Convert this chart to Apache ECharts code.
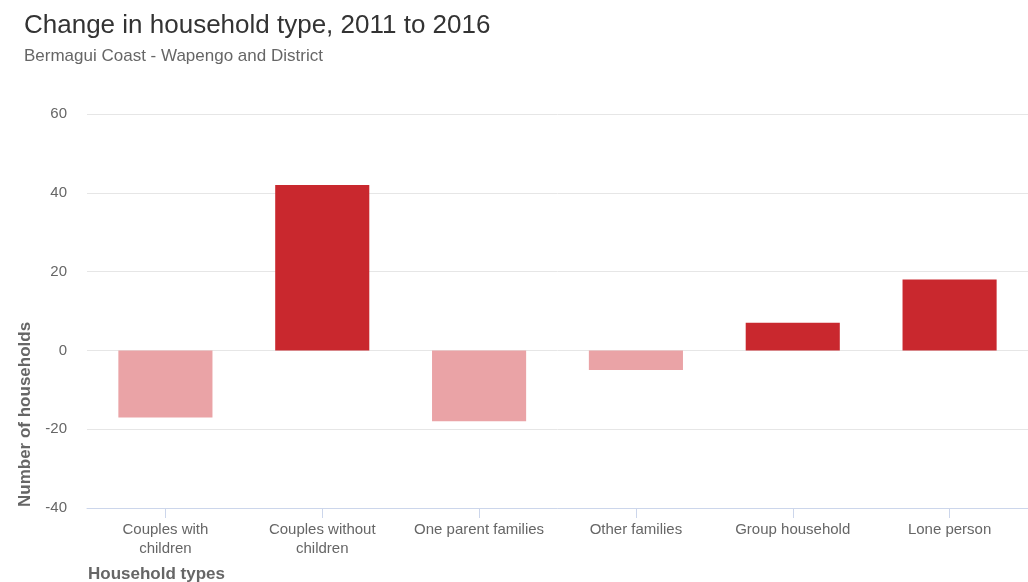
<!DOCTYPE html>
<html>
<head>
<meta charset="utf-8">
<script src="https://cdn.jsdelivr.net/npm/echarts@6/dist/echarts.min.js"></script>
<style>
html,body{margin:0;padding:0;background:#fff;}
#chart{width:1028px;height:582px;}
</style>
</head>
<body>
<div id="chart"></div>
<script>
const titleText = 'Change in household type, 2011 to 2016';
const subtitleText = 'Bermagui Coast - Wapengo and District';
const categories = ['Couples with\nchildren', 'Couples without\nchildren', 'One parent families', 'Other families', 'Group household', 'Lone person'];
const changeValues = [-17, 42, -18, -5, 7, 18];
const yTicks = { min: -40, max: 60, interval: 20 };
const xAxisTitle = 'Household types';
const yAxisTitle = 'Number of households';

const FONT = '"Liberation Sans", Arial, Helvetica, sans-serif';
const POS = '#c9282e';
const NEG = '#eaa3a6';

const chart = echarts.init(document.getElementById('chart'), null, { renderer: 'canvas' });
chart.setOption({
  backgroundColor: '#ffffff',
  animation: false,
  title: {
    text: titleText,
    subtext: subtitleText,
    left: 24,
    top: 13,
    itemGap: 9,
    padding: 0,
    textStyle: { fontFamily: FONT, fontSize: 26, fontWeight: 'normal', color: '#333333' },
    subtextStyle: { fontFamily: FONT, fontSize: 17, color: '#666666' }
  },
  grid: { left: 87, right: 0, top: 114, bottom: 74, containLabel: false },
  xAxis: {
    type: 'category',
    data: categories,
    axisLine: { onZero: false, lineStyle: { color: '#ccd6eb', width: 1 } },
    axisTick: { show: true, alignWithLabel: true, length: 10, lineStyle: { color: '#ccd6eb' } },
    axisLabel: { fontFamily: FONT, fontSize: 15, color: '#666666', margin: 12, lineHeight: 19, interval: 0 },
    splitLine: { show: false }
  },
  yAxis: {
    type: 'value',
    min: yTicks.min,
    max: yTicks.max,
    interval: yTicks.interval,
    axisLine: { show: false },
    axisTick: { show: false },
    axisLabel: { fontFamily: FONT, fontSize: 15, color: '#666666', margin: 20 },
    splitLine: { lineStyle: { color: '#e6e6e6', width: 1 } }
  },
  series: [{
    type: 'bar',
    data: changeValues,
    barWidth: '60%',
    itemStyle: { color: p => (p.value >= 0 ? POS : NEG) }
  }],
  graphic: [
    {
      type: 'text',
      x: 25.5,
      y: 507,
      rotation: Math.PI / 2,
      style: { text: yAxisTitle, x: 0, y: 0, textAlign: 'left', textVerticalAlign: 'middle',
               font: 'bold 17px ' + FONT, fill: '#666666' }
    },
    {
      type: 'text',
      x: 88,
      y: 574,
      style: { text: xAxisTitle, x: 0, y: 0, textAlign: 'left', textVerticalAlign: 'middle',
               font: 'bold 17px ' + FONT, fill: '#666666' }
    }
  ]
});
</script>
</body>
</html>
